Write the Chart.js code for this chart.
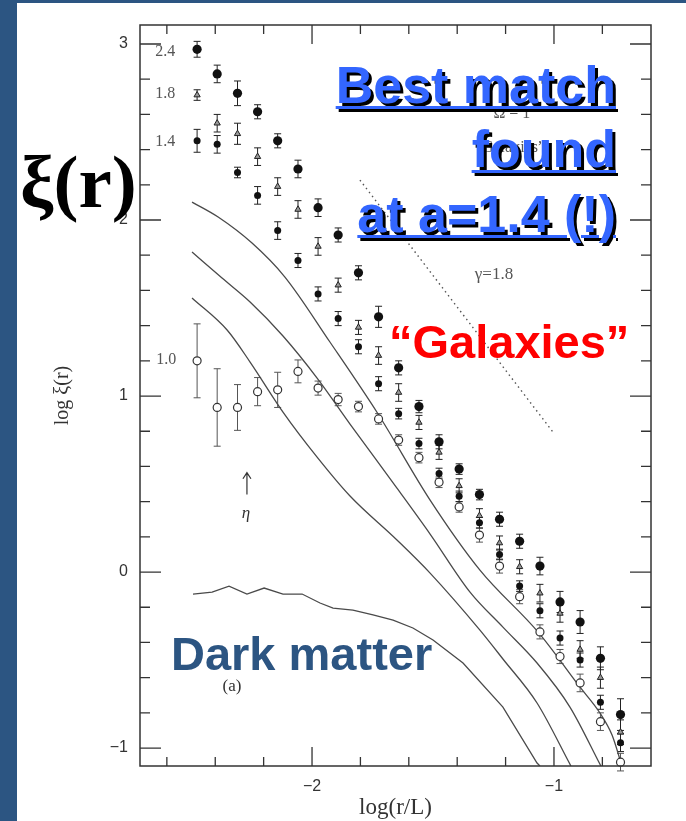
<!DOCTYPE html>
<html><head><meta charset="utf-8">
<script src="https://cdn.jsdelivr.net/npm/chart.js@4.4.1/dist/chart.umd.min.js"></script>
<style>
html,body{margin:0;padding:0;}
body{width:686px;height:821px;background:#2C5582;position:relative;overflow:hidden;}
#panel{position:absolute;left:17px;top:3px;right:0;bottom:0;background:#fff;}
#c{position:absolute;left:0;top:0;}
.ov{position:absolute;font-family:"Liberation Sans",Arial,sans-serif;font-weight:bold;white-space:nowrap;}
#best{right:70px;top:52.7px;font-size:52px;line-height:64.5px;text-align:right;color:#3366FF;text-shadow:3px 3px 0 #000;text-decoration:underline;text-decoration-thickness:3px;text-underline-offset:3px;}
#gal{left:389px;top:318px;font-size:47px;line-height:47px;color:#FF0000;}
#dm{left:171px;top:630px;font-size:47px;line-height:47px;color:#2C5582;}
#xi{left:20px;top:144px;font-family:"Liberation Serif",serif;font-size:75px;line-height:75px;color:#000;}
</style></head>
<body>
<div id="panel"></div>
<canvas id="c" width="686" height="821"></canvas>
<div class="ov" id="best">Best match<br>found<br>at a=1.4 (!)</div>
<div class="ov" id="gal">“Galaxies”</div>
<div class="ov" id="dm">Dark matter</div>
<div class="ov" id="xi">ξ(r)</div>
<script>
// ---- data ----
const logR = [-2.475, -2.392, -2.308, -2.225, -2.142, -2.058, -1.975, -1.892, -1.808, -1.725, -1.642,
              -1.558, -1.475, -1.392, -1.308, -1.225, -1.142, -1.058, -0.975, -0.892, -0.808, -0.725];
const xi24 = [2.97, 2.83, 2.72, 2.615, 2.45, 2.29, 2.07, 1.915, 1.70, 1.45, 1.16, 0.94, 0.74, 0.585, 0.44, 0.30, 0.175, 0.034, -0.17, -0.284, -0.49, -0.81];
const err24 = [0.045, 0.05, 0.07, 0.04, 0.04, 0.05, 0.05, 0.04, 0.04, 0.06, 0.04, 0.035, 0.04, 0.03, 0.03, 0.04, 0.04, 0.05, 0.06, 0.065, 0.065, 0.09];
const xi18 = [2.71, 2.55, 2.49, 2.36, 2.19, 2.06, 1.85, 1.63, 1.39, 1.23, 1.02, 0.85, 0.68, 0.49, 0.32, 0.165, 0.03, -0.12, -0.235, -0.44, -0.60, -0.91];
const err18 = [0.03, 0.05, 0.06, 0.05, 0.05, 0.05, 0.05, 0.04, 0.04, 0.05, 0.05, 0.04, 0.04, 0.04, 0.04, 0.04, 0.04, 0.05, 0.05, 0.05, 0.06, 0.07];
const xi14 = [2.45, 2.43, 2.27, 2.14, 1.94, 1.77, 1.58, 1.44, 1.28, 1.07, 0.90, 0.73, 0.56, 0.43, 0.28, 0.10, -0.08, -0.22, -0.375, -0.50, -0.74, -0.97];
const err14 = [0.065, 0.05, 0.03, 0.05, 0.05, 0.04, 0.04, 0.04, 0.04, 0.04, 0.03, 0.03, 0.03, 0.03, 0.03, 0.03, 0.03, 0.04, 0.04, 0.04, 0.04, 0.05];
const xi10 = [1.20, 0.935, 0.935, 1.025, 1.035, 1.14, 1.045, 0.98, 0.94, 0.87, 0.75, 0.65, 0.51, 0.37, 0.21, 0.034, -0.14, -0.34, -0.48, -0.63, -0.85, -1.08];
const err10 = [0.21, 0.22, 0.13, 0.08, 0.10, 0.065, 0.04, 0.035, 0.03, 0.03, 0.03, 0.03, 0.03, 0.03, 0.04, 0.04, 0.04, 0.04, 0.04, 0.05, 0.05, 0.05];

const model1X = [-2.496, -2.388, -2.248, -2.112, -1.926, -1.727, -1.512, -1.306, -1.062, -0.893, -0.810, -0.760, -0.719];
const model1Y = [2.102, 2.017, 1.869, 1.676, 1.307, 0.898, 0.409, 0.011, -0.347, -0.653, -0.801, -0.926, -1.102];
const model2X = [-2.496, -2.372, -2.256, -2.120, -1.979, -1.843, -1.649, -1.512, -1.347, -1.211, -1.070, -0.934, -0.806];
const model2Y = [1.818, 1.670, 1.534, 1.341, 1.102, 0.841, 0.477, 0.216, -0.114, -0.313, -0.517, -0.767, -1.102];
const model3X = [-2.496, -2.351, -2.256, -2.120, -1.979, -1.843, -1.649, -1.512, -1.306, -1.211, -1.070, -0.930];
const model3Y = [1.557, 1.375, 1.193, 0.909, 0.653, 0.432, 0.182, -0.006, -0.330, -0.494, -0.744, -1.102];
const darkX = [-2.492, -2.413, -2.343, -2.269, -2.198, -2.120, -2.041, -1.967, -1.913, -1.831, -1.748, -1.665, -1.583, -1.500, -1.376, -1.211, -1.070, -1.058];
const darkY = [-0.125, -0.114, -0.080, -0.125, -0.091, -0.125, -0.125, -0.176, -0.205, -0.216, -0.244, -0.273, -0.318, -0.386, -0.517, -0.767, -1.085, -1.102];
const gammaX = [-1.802, -1.004];
const gammaY = [2.227, 0.795];

const xMajorLabels = {'-2': '\u22122', '-1': '\u22121'};
const yMajorLabels = {'-1': '\u22121', '0': '0', '1': '1', '2': '2', '3': '3'};
const seriesNames = ['2.4', '1.8', '1.4', '1.0'];

// ---- helpers ----
const pts = (xs, ys) => xs.map((v, i) => ({x: v, y: ys[i]}));
const xTickVals = []; for (let k = -13; k <= -4; k++) xTickVals.push(k / 5);
const yTickVals = []; for (let k = -5; k <= 15; k++) yTickVals.push(k / 5);
const isMajor = v => Math.abs(v - Math.round(v)) < 1e-6;

const errorSets = [
  {vals: xi10, err: err10, color: '#555'},
  {vals: xi14, err: err14, color: '#222'},
  {vals: xi18, err: err18, color: '#222'},
  {vals: xi24, err: err24, color: '#222'}
];

const decor = {
  id: 'decor',
  beforeDatasetsDraw(chart) {
    const {ctx, scales: {x, y}} = chart;
    ctx.save();
    ctx.lineWidth = 1;
    errorSets.forEach(s => {
      ctx.strokeStyle = s.color;
      s.vals.forEach((v, i) => {
        const px = x.getPixelForValue(logR[i]);
        const t = y.getPixelForValue(v + s.err[i]);
        const b = y.getPixelForValue(v - s.err[i]);
        ctx.beginPath();
        ctx.moveTo(px, t); ctx.lineTo(px, b);
        ctx.moveTo(px - 3.5, t); ctx.lineTo(px + 3.5, t);
        ctx.moveTo(px - 3.5, b); ctx.lineTo(px + 3.5, b);
        ctx.stroke();
      });
    });
    ctx.restore();
  },
  afterDraw(chart) {
    const {ctx, chartArea: a, scales: {x, y}} = chart;
    ctx.save();
    ctx.strokeStyle = '#333';
    ctx.lineWidth = 1.5;
    ctx.strokeRect(a.left, a.top, a.right - a.left, a.bottom - a.top);
    ctx.lineWidth = 1.3;
    ctx.beginPath();
    y.ticks.forEach(t => {
      const p = y.getPixelForValue(t.value);
      const len = isMajor(t.value) ? 21 : 10;
      ctx.moveTo(a.left, p); ctx.lineTo(a.left + len, p);
      ctx.moveTo(a.right, p); ctx.lineTo(a.right - len, p);
    });
    x.ticks.forEach(t => {
      const p = x.getPixelForValue(t.value);
      const len = isMajor(t.value) ? 19 : 9;
      ctx.moveTo(p, a.top); ctx.lineTo(p, a.top + len);
      ctx.moveTo(p, a.bottom); ctx.lineTo(p, a.bottom - len);
    });
    ctx.stroke();

    // annotations of the original figure
    const X = v => x.getPixelForValue(v), Y = v => y.getPixelForValue(v);
    ctx.fillStyle = '#555';
    ctx.textAlign = 'center';
    ctx.textBaseline = 'middle';
    ctx.font = '16px "Liberation Serif", serif';
    const lab = [[-2.607, 2.955], [-2.607, 2.716], [-2.607, 2.443], [-2.603, 1.205]];
    seriesNames.forEach((s, i) => ctx.fillText(s, X(lab[i][0]), Y(lab[i][1])));
    ctx.font = '17px "Liberation Serif", serif';
    ctx.fillText('\u03b3=1.8', X(-1.248), Y(1.693));
    ctx.font = '16px "Liberation Serif", serif';
    ctx.fillText('\u03a9 = 1', X(-1.174), Y(2.602));
    ctx.fillText('\u201cGalaxies\u201d', X(-1.182), Y(2.409));
    ctx.fillStyle = '#333';
    ctx.font = '17px "Liberation Serif", serif';
    ctx.fillText('(a)', X(-2.331), Y(-0.653));
    ctx.font = 'italic 17px "Liberation Serif", serif';
    ctx.fillText('\u03b7', X(-2.273), Y(0.335));
    // arrow
    ctx.strokeStyle = '#333'; ctx.lineWidth = 1.2;
    const ax = X(-2.269);
    ctx.beginPath();
    ctx.moveTo(ax, Y(0.44)); ctx.lineTo(ax, Y(0.565));
    ctx.moveTo(ax - 4, Y(0.53)); ctx.lineTo(ax, Y(0.565)); ctx.lineTo(ax + 4, Y(0.53));
    ctx.stroke();
    ctx.restore();
  }
};

const lineDs = (xs, ys, extra) => Object.assign({
  data: pts(xs, ys), showLine: true, pointRadius: 0, borderColor: '#4a4a4a', borderWidth: 1.3,
  cubicInterpolationMode: 'monotone', fill: false
}, extra || {});

new Chart(document.getElementById('c'), {
  type: 'scatter',
  data: {
    datasets: [
      {data: pts(logR, xi24), pointStyle: 'circle', pointRadius: 4.6, backgroundColor: '#111', borderColor: '#111', borderWidth: 0, clip: false},
      {data: pts(logR, xi18), pointStyle: 'triangle', pointRadius: 3.6, backgroundColor: '#999', borderColor: '#222', borderWidth: 1, clip: false},
      {data: pts(logR, xi14), pointStyle: 'circle', pointRadius: 3.5, backgroundColor: '#111', borderColor: '#111', borderWidth: 0, clip: false},
      {data: pts(logR, xi10), pointStyle: 'circle', pointRadius: 4, backgroundColor: '#fff', borderColor: '#333', borderWidth: 1.2, clip: false},
      lineDs(model1X, model1Y),
      lineDs(model2X, model2Y),
      lineDs(model3X, model3Y),
      lineDs(darkX, darkY, {cubicInterpolationMode: 'default', tension: 0}),
      lineDs(gammaX, gammaY, {borderDash: [1.5, 3.5], borderColor: '#555', borderWidth: 1.4})
    ]
  },
  options: {
    responsive: false,
    animation: false,
    events: [],
    layout: {padding: {left: 0, right: 35, top: 25, bottom: 0}},
    plugins: {legend: {display: false}, tooltip: {enabled: false}},
    scales: {
      x: {
        type: 'linear', min: -2.711, max: -0.599,
        afterFit(s) { s.height = 55; },
        afterBuildTicks(s) { s.ticks = xTickVals.map(v => ({value: v})); },
        grid: {display: false, drawTicks: false},
        border: {display: false},
        ticks: {
          padding: 11, color: '#333', font: {family: 'Liberation Sans', size: 16},
          autoSkip: false, maxRotation: 0,
          callback: v => isMajor(v) ? (xMajorLabels[String(Math.round(v))] || '') : ''
        },
        title: {display: true, text: 'log(r/L)', color: '#333', font: {family: 'Liberation Serif', size: 23, lineHeight: 1.2}, padding: {top: 0, bottom: -1}}
      },
      y: {
        type: 'linear', min: -1.102, max: 3.108,
        afterFit(s) { s.width = 140; },
        afterBuildTicks(s) { s.ticks = yTickVals.map(v => ({value: v})); },
        grid: {display: false, drawTicks: false},
        border: {display: false},
        ticks: {
          padding: 12, color: '#333', font: {family: 'Liberation Sans', size: 16},
          autoSkip: false,
          callback: v => isMajor(v) ? (yMajorLabels[String(Math.round(v))] || '') : ''
        },
        title: {display: true, text: 'log \u03be(r)', color: '#333', font: {family: 'Liberation Serif', size: 20, lineHeight: 1.2}, padding: {top: 51, bottom: 0}}
      }
    }
  },
  plugins: [decor]
});
</script>
</body></html>
